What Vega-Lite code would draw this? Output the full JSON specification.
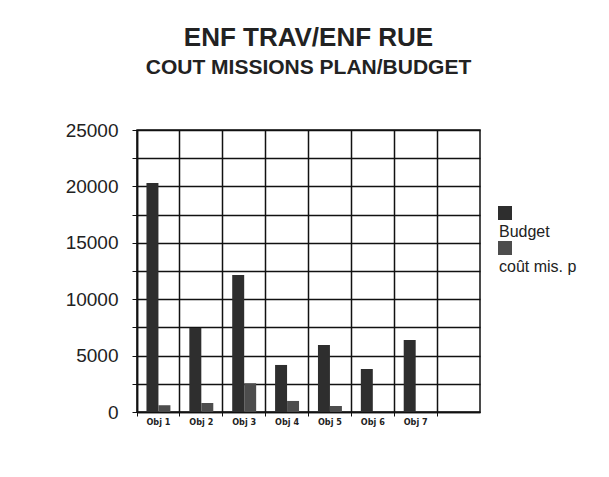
{
  "$schema": "https://vega.github.io/schema/vega-lite/v6.json",
  "autosize": {"type": "none"},
  "width": 343,
  "height": 282,
  "padding": {"left": 137, "top": 130, "right": 129, "bottom": 65},
  "background": "white",
  "title": {
    "text": "ENF TRAV/ENF RUE",
    "subtitle": "COUT MISSIONS PLAN/BUDGET",
    "font": "Liberation Sans",
    "fontSize": 26,
    "fontWeight": "bold",
    "color": "#222222",
    "subtitleFont": "Liberation Sans",
    "subtitleFontSize": 21,
    "subtitleFontWeight": "bold",
    "subtitleColor": "#222222",
    "subtitlePadding": 6,
    "anchor": "middle",
    "offset": 43
  },
  "data": {
    "values": [
      {"obj": "Obj 1", "serie": "Budget", "valeur": 20300},
      {"obj": "Obj 1", "serie": "coût mis. p", "valeur": 600},
      {"obj": "Obj 2", "serie": "Budget", "valeur": 7450},
      {"obj": "Obj 2", "serie": "coût mis. p", "valeur": 800},
      {"obj": "Obj 3", "serie": "Budget", "valeur": 12150},
      {"obj": "Obj 3", "serie": "coût mis. p", "valeur": 2550},
      {"obj": "Obj 4", "serie": "Budget", "valeur": 4170},
      {"obj": "Obj 4", "serie": "coût mis. p", "valeur": 980},
      {"obj": "Obj 5", "serie": "Budget", "valeur": 5940},
      {"obj": "Obj 5", "serie": "coût mis. p", "valeur": 530},
      {"obj": "Obj 6", "serie": "Budget", "valeur": 3810},
      {"obj": "Obj 6", "serie": "coût mis. p", "valeur": 0},
      {"obj": "Obj 7", "serie": "Budget", "valeur": 6380},
      {"obj": "Obj 7", "serie": "coût mis. p", "valeur": 0}
    ]
  },
  "mark": {"type": "bar"},
  "encoding": {
    "x": {
      "field": "obj",
      "type": "nominal",
      "scale": {
        "domain": ["Obj 1", "Obj 2", "Obj 3", "Obj 4", "Obj 5", "Obj 6", "Obj 7", ""],
        "paddingInner": 0,
        "paddingOuter": 0
      },
      "axis": {
        "title": null,
        "labelAngle": 0,
        "bandPosition": 0,
        "grid": true,
        "gridColor": "#111111",
        "gridWidth": 1.5,
        "tickSize": 4,
        "tickColor": "#111111",
        "domainColor": "#111111",
        "domainWidth": 1.5,
        "labelFont": "DejaVu Sans Condensed, Liberation Sans",
        "labelFontSize": 9,
        "labelFontWeight": "bold",
        "labelColor": "#222222",
        "labelPadding": 1
      }
    },
    "xOffset": {
      "field": "serie",
      "type": "nominal",
      "scale": {"paddingInner": 0, "paddingOuter": 0.79}
    },
    "y": {
      "field": "valeur",
      "type": "quantitative",
      "scale": {"domain": [0, 25000], "nice": false},
      "axis": {
        "title": null,
        "values": [0, 2500, 5000, 7500, 10000, 12500, 15000, 17500, 20000, 22500, 25000],
        "labelExpr": "datum.value % 5000 == 0 ? datum.label : ''",
        "format": "d",
        "grid": true,
        "gridColor": "#111111",
        "gridWidth": 1.5,
        "tickSize": 5,
        "tickColor": "#111111",
        "domainColor": "#111111",
        "domainWidth": 1.5,
        "labelPadding": 14,
        "labelFont": "Liberation Sans",
        "labelFontSize": 19,
        "labelColor": "#222222"
      }
    },
    "color": {
      "field": "serie",
      "type": "nominal",
      "scale": {"domain": ["Budget", "coût mis. p"], "range": ["#2e2e2e", "#4d4d4d"]},
      "legend": {
        "title": null,
        "orient": "none",
        "legendX": 360,
        "legendY": 75,
        "padding": 0,
        "symbolType": "square",
        "symbolSize": 196,
        "symbolStrokeWidth": 0,
        "symbolOpacity": 1,
        "rowPadding": 0,
        "labelFont": "Liberation Sans",
        "labelFontSize": 16,
        "labelColor": "#222222",
        "labelLimit": 200,
        "encode": {
          "labels": {"update": {"dx": {"value": -18}, "dy": {"value": 19}}}
        }
      }
    }
  },
  "config": {
    "view": {"stroke": "#111111", "strokeWidth": 1.5}
  }
}
